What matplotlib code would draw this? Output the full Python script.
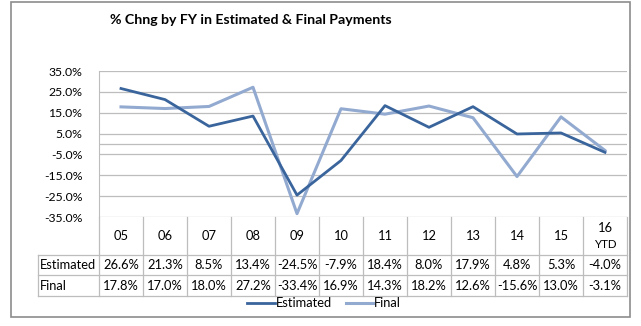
import matplotlib
matplotlib.use("Agg")
import matplotlib.pyplot as plt
from matplotlib.lines import Line2D
from matplotlib.patches import Rectangle

# data
years = ["05", "06", "07", "08", "09", "10", "11", "12", "13", "14", "15", "16\nYTD"]
estimated = [26.6, 21.3, 8.5, 13.4, -24.5, -7.9, 18.4, 8.0, 17.9, 4.8, 5.3, -4.0]
final = [17.8, 17.0, 18.0, 27.2, -33.4, 16.9, 14.3, 18.2, 12.6, -15.6, 13.0, -3.1]
yticks = [35, 25, 15, 5, -5, -15, -25, -35]

W, H = 641, 326
est_color = "#3A659C"
fin_color = "#93AAD0"
grid_color = "#BDBDBD"
font = "Lato"
fs = 9.3

fig = plt.figure(figsize=(W / 100, H / 100), dpi=100)

def fx(px):
    return px / W

def fy(py):
    return 1 - py / H

# outer frame
fig.patches.append(Rectangle((fx(11), fy(317)), fx(619), 315 / H, transform=fig.transFigure,
                             fill=False, edgecolor="#8C8C8C", linewidth=1.2))

fig.text(fx(251), fy(20), "% Chng by FY in Estimated & Final Payments", ha="center", va="center",
         fontsize=10.2, fontweight="bold", family=font)

left, right, top, bottom = 99, 627, 71, 217
ax = fig.add_axes([fx(left), fy(bottom), fx(right - left), (bottom - top) / H])
n = len(years)
x = list(range(n))
ax.set_xlim(-0.5, n - 0.5)
ax.set_ylim(-35, 35)
for t in yticks:
    ax.axhline(t, color=grid_color, linewidth=0.9, zorder=0)
ax.axhline(0, color=grid_color, linewidth=0.9, zorder=0)
ax.plot(x, estimated, color=est_color, linewidth=2, zorder=3)
ax.plot(x, final, color=fin_color, linewidth=2.2, zorder=2)
ax.set_yticks(yticks)
ax.set_yticklabels([f"{t:.1f}%" for t in yticks], family=font, fontsize=8.8)
ax.set_xticks([])
ax.tick_params(axis="y", length=0, pad=12)
for s in ["top", "right", "bottom"]:
    ax.spines[s].set_visible(False)
ax.spines["left"].set_color(grid_color)

# data table below the plot
col_w = (right - left) / n
rows = [("Estimated", estimated), ("Final", final)]
row_edges = [217, 255, 275, 296]
tab_left = 38
lc = "#BDBDBD"

def hline(py, x0, x1):
    fig.add_artist(Line2D([fx(x0), fx(x1)], [fy(py), fy(py)], color=lc, linewidth=0.9))

def vline(px, y0, y1):
    fig.add_artist(Line2D([fx(px), fx(px)], [fy(y0), fy(y1)], color=lc, linewidth=0.9))

hline(row_edges[1], tab_left, right)
hline(row_edges[2], tab_left, right)
hline(row_edges[3], tab_left, right)
vline(tab_left, row_edges[1], row_edges[3])
for i in range(n + 1):
    vline(left + i * col_w, row_edges[0], row_edges[3])

for i, yr in enumerate(years):
    cx = left + (i + 0.5) * col_w
    if "\n" in yr:
        a, b = yr.split("\n")
        fig.text(fx(cx), fy(228), a, ha="center", va="center", fontsize=fs, family=font)
        fig.text(fx(cx), fy(244), b, ha="center", va="center", fontsize=8.3, family=font)
    else:
        fig.text(fx(cx), fy(236), yr, ha="center", va="center", fontsize=fs, family=font)

for r, (name, vals) in enumerate(rows):
    cy = (row_edges[r + 1] + row_edges[r + 2]) / 2
    fig.text(fx(tab_left + 2), fy(cy), name, ha="left", va="center", fontsize=fs, family=font)
    for i, v in enumerate(vals):
        cx = left + (i + 0.5) * col_w
        fig.text(fx(cx), fy(cy), f"{v:.1f}%", ha="center", va="center", fontsize=fs, family=font)

# legend
fig.add_artist(Line2D([fx(247), fx(275)], [fy(303), fy(303)], color=est_color, linewidth=2))
fig.text(fx(276), fy(303), "Estimated", ha="left", va="center", fontsize=fs, family=font)
fig.add_artist(Line2D([fx(346), fx(373)], [fy(303), fy(303)], color=fin_color, linewidth=2.2))
fig.text(fx(374), fy(303), "Final", ha="left", va="center", fontsize=fs, family=font)

fig.savefig("out.png", dpi=100, facecolor="white")
